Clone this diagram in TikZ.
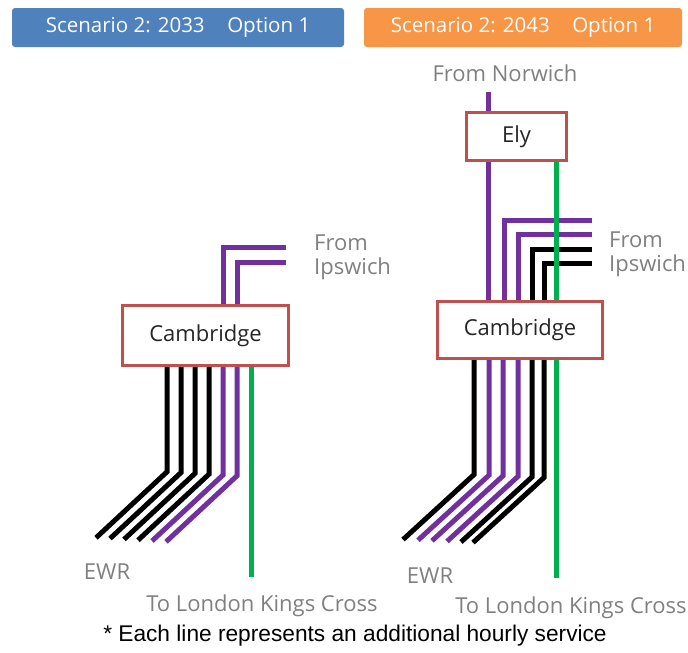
\documentclass[tikz,border=0pt]{standalone}
\usepackage{fontspec}
\setmainfont{Open Sans}
\newfontfamily\footfont{Liberation Sans}
\usetikzlibrary{
    positioning     % tikz's library for relative placement
}
\pgfdeclarelayer{bg}
\pgfsetlayers{bg,main}
\definecolor{boxred}{HTML}{C0504D}
\definecolor{headblue}{HTML}{4F81BD}
\definecolor{headorange}{HTML}{F79646}
\definecolor{routepurple}{HTML}{7030A0}
\definecolor{routegreen}{HTML}{00B050}
\definecolor{labelgrey}{HTML}{808080}
\definecolor{textdark}{HTML}{262626}
\newcommand{\lw}{5pt}
\tikzset{
    header node/.style={rounded corners=3pt, text=white, minimum height=39pt,
        inner sep=0pt, font=\fontsize{20.5}{24}\selectfont},
    station node/.style={draw=boxred, line width=3pt, fill=white, text=textdark,
        inner sep=0pt, font=\fontsize{22}{26}\selectfont},
    label node/.style={text=labelgrey, inner sep=0pt, align=left,
        font=\fontsize{22}{24}\selectfont},
    route/.style={line width=\lw, line join=miter},
    purple line/.style={route, draw=routepurple},
    black line/.style={route, draw=black},
    green line/.style={route, draw=routegreen}
}

\begin{document}
\begin{tikzpicture}[x=1pt, y=-1pt]
    \useasboundingbox (0,0) rectangle (688,653);

    % headers
    \node[header node, fill=headblue, minimum width=332pt] (headA) at (178,27.5)
        {Scenario 2: 2033\hspace{1.1em}Option 1};
    \node[header node, fill=headorange, minimum width=318pt] (headB) at (523,27.5)
        {Scenario 2: 2043\hspace{1.1em}Option 1};

    % stations
    \node[station node, minimum width=166pt, minimum height=60pt] (camA) at (205.5,335.5) {Cambridge};
    \node[station node, minimum width=100pt, minimum height=48pt] (elyB) at (516.5,136.5) {Ely};
    \node[station node, minimum width=165pt, minimum height=57pt] (camB) at (520,330) {Cambridge};

    % labels
    \node[label node, anchor=west] (ipsA) at (314,257) {From\\Ipswich};
    \node[label node] (ewrA) at (107,572) {EWR};
    \node[label node] (kxA) at (262,606) {To London Kings Cross};
    \node[label node] (norB) at (505,73) {From Norwich};
    \node[label node, anchor=west] (ipsB) at (609,254) {From\\Ipswich};
    \node[label node] (ewrB) at (430,576) {EWR};
    \node[label node] (kxB) at (571,608) {To London Kings Cross};
    \node[inner sep=0pt, font=\footfont\fontsize{22.7}{26}\selectfont] (note) at (355,636)
        {* Each line represents an additional hourly service};

    \begin{pgfonlayer}{bg}
        % 2033: from Ipswich into Cambridge
        \draw[purple line] (223,0 |- camA.north) -- (223,247) -- (286,247);
        \draw[purple line] (237,0 |- camA.north) -- (237,262) -- (286,262);
        % 2033: Cambridge to EWR
        \foreach \x/\c [count=\i] in {167/black, 181/black, 195/black, 209/black,
                                      223/routepurple, 237/routepurple}
            \draw[route, draw=\c] (\x,0 |- camA.south) -- (\x,471+\i*0.8) -- ++(-71,66);
        \draw[green line] (251,0 |- camA.south) -- (251,577);

        % 2043: Norwich via Ely
        \draw[purple line] (488,92) -- (488,0 |- elyB.north);
        \draw[purple line] (488,0 |- elyB.south) -- (488,0 |- camB.north);
        % 2043: from Ipswich into Cambridge
        \draw[purple line] (504,0 |- camB.north) -- (504,220) -- (592,220);
        \draw[purple line] (518,0 |- camB.north) -- (518,234) -- (592,234);
        \draw[black line] (532,0 |- camB.north) -- (532,249) -- (592,249);
        \draw[black line] (544,0 |- camB.north) -- (544,263) -- (592,263);
        % 2043: Cambridge to EWR
        \foreach \x/\c [count=\i] in {474/black, 489/routepurple, 503/routepurple,
                                      518/routepurple, 532/black, 544/black}
            \draw[route, draw=\c] (\x,0 |- camB.south) -- (\x,474+\i*0.6) -- ++(-71,65);
        % 2043: Kings Cross line
        \draw[green line] (556,0 |- elyB.south) -- (556,0 |- camB.north);
        \draw[green line] (556,0 |- camB.south) -- (556,578);
    \end{pgfonlayer}
\end{tikzpicture}
\end{document}
